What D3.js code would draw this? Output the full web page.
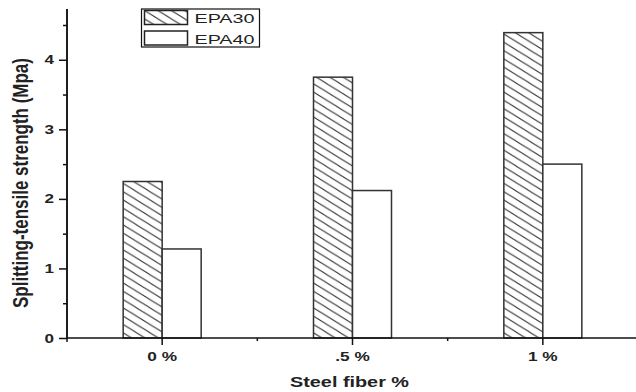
<html>
<head>
<style>
  body { margin: 0; background: #fff; }
  text { font-family: "Liberation Sans", Arial, sans-serif; fill: #222; }
</style>
</head>
<body>
<svg id="chart" width="636" height="392"></svg>
<script src="https://d3js.org/d3.v7.min.js"></script>
<script>
// data
const categories = ["0 %", ".5 %", "1 %"]
const seriesNames = ["EPA30", "EPA40"]
const epa30 = [2.25, 3.75, 4.39]
const epa40 = [1.28, 2.12, 2.50]
const yTicks = [0, 1, 2, 3, 4]
const yMinorTicks = [0.5, 1.5, 2.5, 3.5, 4.5]

const svg = d3.select("#chart")
const plotLeft = 67, plotRight = 638, plotTop = 9, plotBottom = 338
const stretch = 1.38  // the original is squeezed wider than tall

const x = d3.scaleBand().domain(categories).range([plotLeft, plotRight]).padding(0)
const xSub = d3.scaleBand().domain(seriesNames).range([-39, 39]).padding(0)
const y = d3.scaleLinear().domain([0, 4.73]).range([plotBottom, plotTop])

// hatch pattern
const pw = 13.4, ph = 8.3
const defs = svg.append("defs")
const pat = defs.append("pattern")
    .attr("id", "hatch")
    .attr("patternUnits", "userSpaceOnUse")
    .attr("width", pw).attr("height", ph)
pat.append("rect").attr("width", pw).attr("height", ph).attr("fill", "#fff")
pat.append("path")
    .attr("d", `M${-pw},${-ph}L${2 * pw},${2 * ph}M${-pw},0L${pw},${2 * ph}M0,${-ph}L${2 * pw},${ph}`)
    .attr("stroke", "#333").attr("stroke-width", 1)

const fills = { EPA30: "url(#hatch)", EPA40: "#fff" }

// bars
const rows = categories.map((c, i) => ({ cat: c, values: [
    { name: "EPA30", v: epa30[i] }, { name: "EPA40", v: epa40[i] }] }))

svg.append("g").selectAll("g")
    .data(rows).join("g")
    .attr("transform", d => `translate(${x(d.cat) + x.bandwidth() / 2},0)`)
    .selectAll("rect")
    .data(d => d.values).join("rect")
    .attr("x", d => xSub(d.name))
    .attr("width", xSub.bandwidth())
    .attr("y", d => y(d.v))
    .attr("height", d => plotBottom - y(d.v))
    .attr("fill", d => fills[d.name])
    .attr("stroke", "#333")
    .attr("stroke-width", 1.5)

// y axis
const yAxis = svg.append("g").attr("transform", `translate(${plotLeft},0)`)
yAxis.call(d3.axisLeft(y).tickValues(yMinorTicks).tickSize(4).tickFormat(""))
yAxis.append("g").call(d3.axisLeft(y).tickValues(yTicks).tickSize(8).tickPadding(5).tickFormat(d3.format("d")))
yAxis.selectAll("path.domain").attr("d", `M0,${plotTop}V${plotBottom}`)
yAxis.selectAll("line, path").attr("stroke", "#111").attr("stroke-width", 1.5)
yAxis.selectAll("text")
    .attr("font-size", 12.5).attr("font-weight", "bold")
    .attr("font-family", "Liberation Sans, Arial, sans-serif").attr("fill", "#222")
    .attr("textLength", 9.5).attr("lengthAdjust", "spacingAndGlyphs")

// x axis
const xAxis = svg.append("g").attr("transform", `translate(0,${plotBottom})`)
xAxis.call(d3.axisBottom(x).tickSize(7).tickPadding(5).tickSizeOuter(0))
xAxis.selectAll("path.domain").attr("d", `M${plotLeft},0H${plotRight}`)
xAxis.append("g").selectAll("line")
    .data(categories.slice(1)).join("line")
    .attr("x1", d => x(d)).attr("x2", d => x(d))
    .attr("y1", 0).attr("y2", 3)
xAxis.append("line").attr("x1", plotLeft).attr("x2", plotLeft).attr("y1", 0).attr("y2", 4)
xAxis.selectAll("line, path").attr("stroke", "#111").attr("stroke-width", 1.5)
xAxis.selectAll(".tick text")
    .attr("font-size", 12.5).attr("font-weight", "bold")
    .attr("font-family", "Liberation Sans, Arial, sans-serif").attr("fill", "#222")
    .attr("dy", "0.85em")
    .each(function () {
        d3.select(this)
            .attr("textLength", this.getComputedTextLength() * stretch)
            .attr("lengthAdjust", "spacingAndGlyphs")
    })

// axis titles
svg.append("text")
    .attr("x", (plotLeft + plotRight) / 2 - 3).attr("y", 387)
    .attr("text-anchor", "middle")
    .attr("font-size", 14.5).attr("font-weight", "bold")
    .attr("textLength", 119).attr("lengthAdjust", "spacingAndGlyphs")
    .text("Steel fiber %")

const yTitle = svg.append("text")
    .attr("text-anchor", "middle")
    .attr("font-size", 16).attr("font-weight", "bold")
    .text("Splitting-tensile strength (Mpa)")
const titleLen = yTitle.node().getComputedTextLength()
yTitle.attr("transform", `translate(28,183) scale(${stretch},1) rotate(-90) scale(${250 / titleLen},1)`)

// legend
const legend = svg.append("g").attr("transform", "translate(141.5,9)")
legend.append("rect")
    .attr("width", 118).attr("height", 38)
    .attr("fill", "#fff").attr("stroke", "#111").attr("stroke-width", 1.2)
const item = legend.selectAll("g.item")
    .data(seriesNames).join("g")
    .attr("class", "item")
    .attr("transform", (d, i) => `translate(3,${1.5 + i * 20.5})`)
item.append("rect")
    .attr("width", 43).attr("height", 14)
    .attr("fill", d => fills[d]).attr("stroke", "#222").attr("stroke-width", 1.5)
item.append("text")
    .attr("x", 50).attr("y", 12.5)
    .attr("font-size", 13.5)
    .attr("textLength", 60).attr("lengthAdjust", "spacingAndGlyphs")
    .text(d => d)
</script>
</body>
</html>
